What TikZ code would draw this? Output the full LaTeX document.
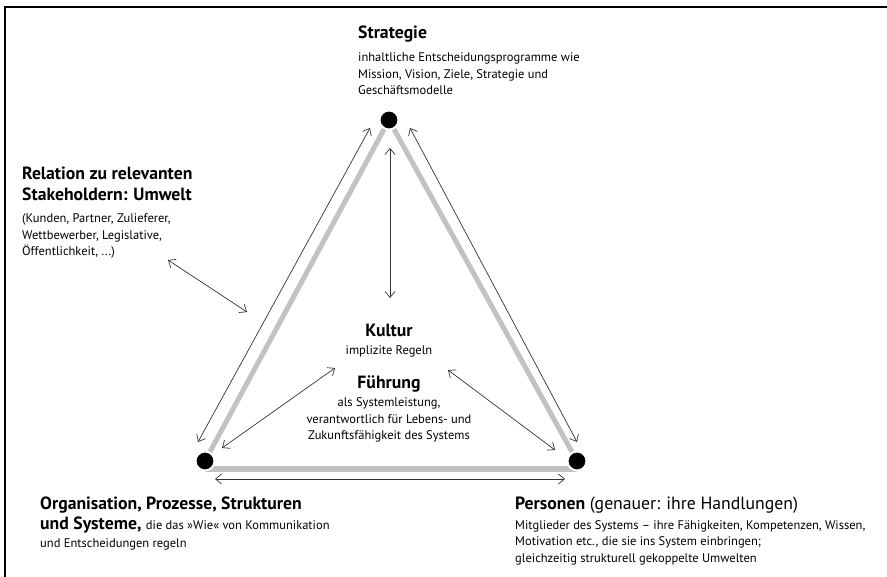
\documentclass[tikz,border=0pt]{standalone}
\usepackage{fontspec}
\setmainfont{PT Sans}
\usetikzlibrary{arrows.meta}

\begin{document}
\begin{tikzpicture}[x=1pt,y=-1pt]
    \tikzstyle{vertex}=[circle,fill=black,draw=white,line width=2pt,minimum size=19pt,inner sep=0pt]
    \tikzstyle{side}=[draw=black!24,line width=5pt]
    \tikzstyle{link}=[draw=black!80,line width=0.7pt,{Straight Barb[length=6pt,width=10pt]}-{Straight Barb[length=6pt,width=10pt]}]
    \tikzstyle{head}=[inner sep=0pt,align=left,font=\fontsize{17.7}{21}\selectfont\bfseries]
    \tikzstyle{body}=[inner sep=0pt,align=left,font=\fontsize{12.5}{16.5}\selectfont]

    \useasboundingbox (0,0) rectangle (887,577);
    \draw[line width=1.5pt] (5,577) -- (5,7) -- (887,7);

    % corners of the triangle
    \coordinate (S) at (389,120);
    \coordinate (O) at (205,461);
    \coordinate (P) at (577,461);

    \draw[side] (S) -- (O);
    \draw[side] (S) -- (P);
    \draw[side] ([yshift=-8pt]O) -- ([yshift=-8pt]P);

    \foreach \name/\pos in {S/S, O/O, P/P}
        \node[vertex] (V-\name) at (\pos) {};

    % ends of the arrows
    \foreach \name/\pos in {a1/{370,128}, a2/{198,442}, b1/{410,128}, b2/{577,442},
                            c1/{390,148}, c2/{390,298}, d1/{215,479}, d2/{565,479},
                            e1/{168,260}, e2/{247,312}, f1/{222,448}, f2/{335,368},
                            g1/{448,370}, g2/{555,450}}
        \coordinate (\name) at (\pos);

    \foreach \from/\to in {a1/a2, b1/b2, c1/c2, d1/d2, e1/e2, f1/f2, g1/g2}
        \draw[link] (\from) -- (\to);

    % texts (base = baseline of the last line)
    \node[head,anchor=base west] (strat) at (358,39) {Strategie};
    \node[body,anchor=base west] (strat-t) at (358,95) {inhaltliche Entscheidungsprogramme wie\\Mission, Vision, Ziele, Strategie und\\Geschäftsmodelle};

    \node[head,anchor=base west] (umw) at (22,201) {Relation zu relevanten\\Stakeholdern: Umwelt};
    \node[body,anchor=base west] (umw-t) at (22,256) {(Kunden, Partner, Zulieferer,\\Wettbewerber, Legislative,\\Öffentlichkeit, ...)};

    \node[head,anchor=base] (kult) at (389,337) {Kultur};
    \node[body,anchor=base] (kult-t) at (389,355) {implizite Regeln};
    \node[head,anchor=base] (fuehr) at (389,389) {Führung};
    \node[body,anchor=base,align=center] (fuehr-t) at (389,440) {als Systemleistung,\\verantwortlich für Lebens- und\\Zukunftsfähigkeit des Systems};

    \node[head,anchor=base west] (org) at (40,509) {Organisation, Prozesse, Strukturen};
    \node[head,anchor=base west] (org-t) at (40,529) {und Systeme, {\mdseries\fontsize{12.5}{16.5}\selectfont die das »Wie« von Kommunikation}};
    \node[body,anchor=base west] (org-u) at (40,547) {und Entscheidungen regeln};

    \node[head,anchor=base west,font=\fontsize{17.7}{21}\selectfont] (pers) at (515,509) {\textbf{Personen} (genauer: ihre Handlungen)};
    \node[body,anchor=base west] (pers-t) at (515,562) {Mitglieder des Systems -- ihre Fähigkeiten, Kompetenzen, Wissen,\\Motivation etc., die sie ins System einbringen;\\gleichzeitig strukturell gekoppelte Umwelten};
\end{tikzpicture}
\end{document}
